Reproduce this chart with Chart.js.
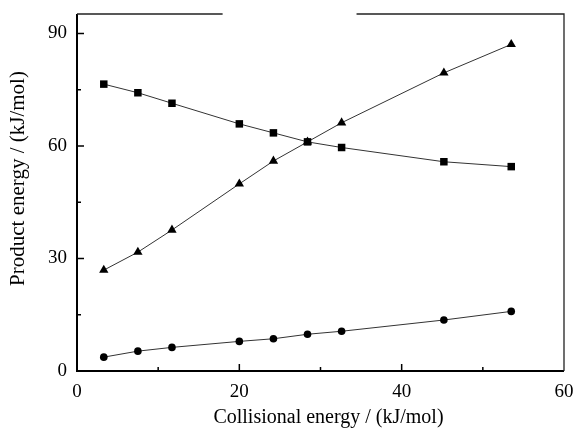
<!DOCTYPE html>
<html><head><meta charset="utf-8">
<script src="https://cdn.jsdelivr.net/npm/chart.js@4"></script>
<style>html,body{margin:0;padding:0;background:#fff}#wrap{width:578px;height:428px}</style>
</head><body><div id="wrap"><canvas id="c" width="578" height="428"></canvas></div>
<script>
const collisionalEnergy = [3.3, 7.5, 11.7, 20.0, 24.2, 28.4, 32.6, 45.2, 53.5];
const squareSeries = [76.5, 74.2, 71.4, 65.9, 63.5, 61.1, 59.6, 55.8, 54.5];
const triangleSeries = [26.9, 31.7, 37.6, 49.9, 56.0, 61.1, 66.2, 79.5, 87.1];
const circleSeries = [3.7, 5.3, 6.3, 7.9, 8.6, 9.8, 10.6, 13.6, 15.9];
const xTicks = [0, 20, 40, 60];
const xMinorTicks = [10, 30, 50];
const yTicks = [0, 30, 60, 90];
const yMinorTicks = [15, 45, 75];
const xTitle = 'Collisional energy / (kJ/mol)';
const yTitle = 'Product energy / (kJ/mol)';

const FONT = "'Liberation Serif', 'Times New Roman', serif";
function pts(ys){ return collisionalEnergy.map((x,i)=>({x:x,y:ys[i]})); }
function ds(ys, style, r){
  return {data: pts(ys), showLine:true, borderColor:'#333', borderWidth:1,
    pointStyle:style, pointRadius:r, pointBackgroundColor:'#000', pointBorderColor:'#000', pointBorderWidth:0, tension:0};
}
function noPad(s){ s.paddingLeft = 0; s.paddingRight = 0; s.paddingTop = 0; s.paddingBottom = 0; }

const framePlugin = {
  id:'frame',
  afterDraw(chart){
    const ctx = chart.ctx, a = chart.chartArea, xs = chart.scales.x, ys = chart.scales.y;
    ctx.save();
    ctx.strokeStyle = '#000';
    ctx.lineWidth = 2;
    ctx.beginPath();
    ctx.moveTo(a.left, a.top); ctx.lineTo(a.left, a.bottom); ctx.lineTo(a.right, a.bottom);
    ctx.stroke();
    ctx.lineWidth = 1.3;
    ctx.strokeStyle = '#222';
    ctx.beginPath();
    ctx.moveTo(a.right, a.bottom); ctx.lineTo(a.right, a.top);
    const g1 = a.left + (a.right - a.left) * 0.299, g2 = a.left + (a.right - a.left) * 0.574;
    ctx.lineTo(g2, a.top);
    ctx.moveTo(g1, a.top); ctx.lineTo(a.left, a.top);
    ctx.stroke();
    ctx.lineWidth = 1.5; ctx.strokeStyle = '#000';
    ctx.beginPath();
    xTicks.forEach(v=>{const p = xs.getPixelForValue(v); if(v>0 && v<60){ctx.moveTo(p,a.bottom); ctx.lineTo(p,a.bottom-7);}});
    xMinorTicks.forEach(v=>{const p = xs.getPixelForValue(v); ctx.moveTo(p,a.bottom); ctx.lineTo(p,a.bottom-4);});
    yTicks.forEach(v=>{const p = ys.getPixelForValue(v); if(v>0){ctx.moveTo(a.left,p); ctx.lineTo(a.left+7,p);}});
    yMinorTicks.forEach(v=>{const p = ys.getPixelForValue(v); ctx.moveTo(a.left,p); ctx.lineTo(a.left+4,p);});
    ctx.stroke();
    // axis titles
    ctx.fillStyle = '#000';
    ctx.textAlign = 'center'; ctx.textBaseline = 'middle';
    ctx.font = "20px " + FONT;
    ctx.fillText(xTitle, (a.left + a.right) / 2 + 8, a.bottom + 47);
    ctx.save();
    ctx.translate(18, (a.top + a.bottom) / 2 - 14);
    ctx.rotate(-Math.PI / 2);
    ctx.font = "21px " + FONT;
    ctx.fillText(yTitle, 0, 0);
    ctx.restore();
    ctx.restore();
  }
};

new Chart(document.getElementById('c'), {
  type:'scatter',
  data:{datasets:[ds(squareSeries,'rect',5.3), ds(triangleSeries,'triangle',5.4), ds(circleSeries,'circle',3.8)]},
  options:{
    responsive:false, animation:false, devicePixelRatio:1,
    layout:{padding:{top:14, right:14, left:0, bottom:0}},
    plugins:{legend:{display:false}, tooltip:{enabled:false}},
    scales:{
      x:{type:'linear', min:0, max:60,
        afterBuildTicks(s){ s.ticks = xTicks.map(v=>({value:v})); },
        afterFit(s){ s.height = 57; noPad(s); },
        grid:{display:false, drawTicks:false}, border:{display:false},
        ticks:{color:'#000', font:{family:FONT, size:19}, padding:10, maxRotation:0},
        title:{display:false}
      },
      y:{type:'linear', min:0, max:95.2,
        afterBuildTicks(s){ s.ticks = yTicks.map(v=>({value:v})); },
        afterFit(s){ s.width = 77; noPad(s); },
        grid:{display:false, drawTicks:false}, border:{display:false},
        ticks:{color:'#000', font:{family:FONT, size:19}, padding:10},
        title:{display:false}
      }
    }
  },
  plugins:[framePlugin]
});
</script></body></html>
